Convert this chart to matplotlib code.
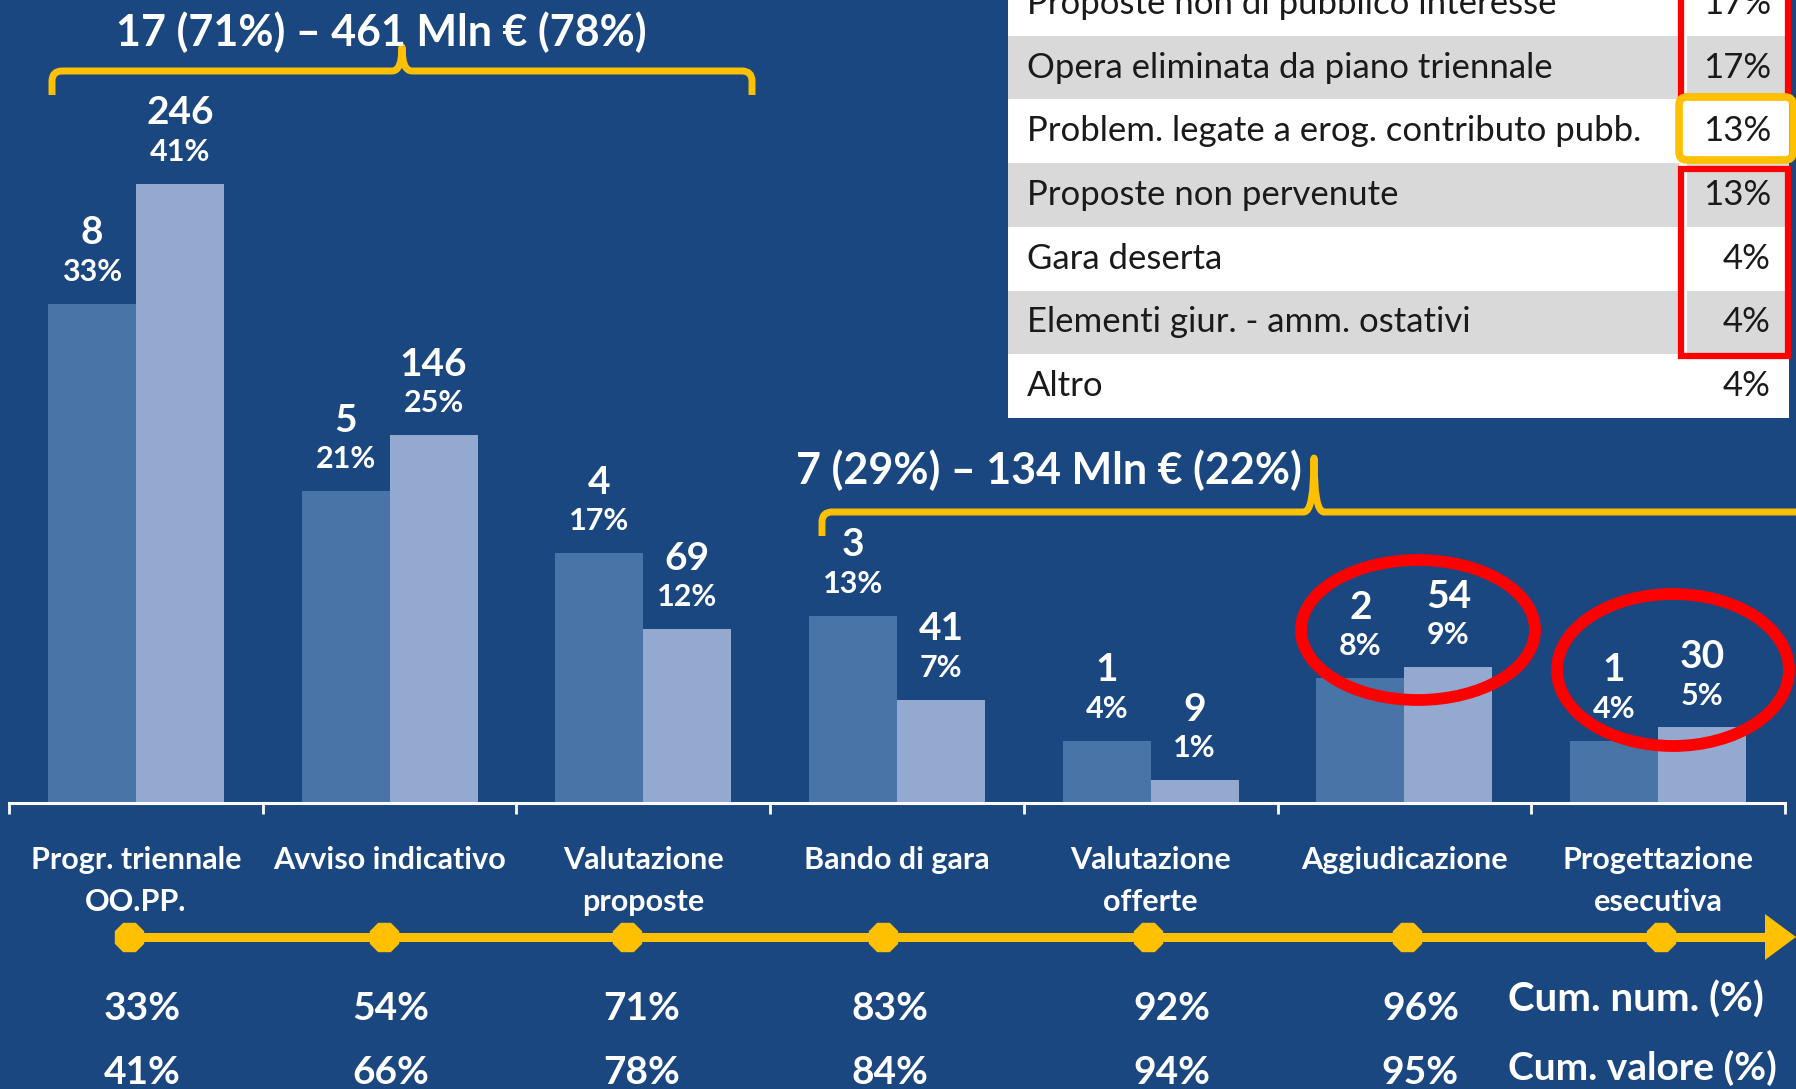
import numpy as np
import matplotlib
matplotlib.use("Agg")
import matplotlib.pyplot as plt
import matplotlib.transforms as mtransforms
from matplotlib.path import Path
from matplotlib.patches import PathPatch, Ellipse, Rectangle, FancyBboxPatch, Polygon

plt.rcParams["font.family"] = ["Lato", "DejaVu Sans"]

# fasi della procedura e dati per fase
phases = ["Progr. triennale\nOO.PP.", "Avviso indicativo", "Valutazione\nproposte",
          "Bando di gara", "Valutazione\nofferte", "Aggiudicazione", "Progettazione\nesecutiva"]
num_interventi = [8, 5, 4, 3, 1, 2, 1]
valore_mln = [246, 146, 69, 41, 9, 54, 30]
num_pct_lbl = [33, 21, 17, 13, 4, 8, 4]
val_pct_lbl = [41, 25, 12, 7, 1, 9, 5]
cum_num = [33, 54, 71, 83, 92, 96]
cum_val = [41, 66, 78, 84, 94, 95]

# cause di blocco
cause = ["Proposte non di pubblico interesse", "Opera eliminata da piano triennale",
         "Problem. legate a erog. contributo pubb.", "Proposte non pervenute",
         "Gara deserta", "Elementi giur. - amm. ostativi", "Altro"]
cause_pct = [17, 17, 13, 13, 4, 4, 4]

gruppo_a = "17 (71%) – 461 Mln € (78%)"
gruppo_b = "7 (29%) – 134 Mln € (22%)"

BG = "#1A4780"
DARK = "#4874A8"
LIGHT = "#94A9D0"
YEL = "#FFC000"
RED = "#FF0000"
W = 1796
H = 1089

num_share = np.array(num_interventi) / sum(num_interventi) * 100
val_share = np.array(valore_mln) / sum(valore_mln) * 100
x = np.arange(len(phases))
bw = 0.347

fig = plt.figure(figsize=(W / 100, H / 100), dpi=100, facecolor=BG)
ax = fig.add_axes([9 / W, (H - 803) / H, 1776 / W, 749 / H])
ax.set_facecolor("none")
ax.bar(x - bw / 2, num_share, bw, color=DARK, zorder=2)
ax.bar(x + bw / 2, val_share, bw, color=LIGHT, zorder=2)
ax.set_xlim(-0.5, 6.5)
ax.set_ylim(0, 50)

for xi, h, n, p in zip(x - bw / 2, num_share, num_interventi, num_pct_lbl):
    ax.annotate(str(n), (xi, h), xytext=(0, 51), textcoords="offset points",
                ha="center", va="center", color="white", fontsize=28, fontweight="bold")
    ax.annotate(f"{p}%", (xi, h), xytext=(0, 23), textcoords="offset points",
                ha="center", va="center", color="white", fontsize=22, fontweight="bold")
for xi, h, v, p in zip(x + bw / 2, val_share, valore_mln, val_pct_lbl):
    ax.annotate(str(v), (xi, h), xytext=(0, 51), textcoords="offset points",
                ha="center", va="center", color="white", fontsize=28, fontweight="bold")
    ax.annotate(f"{p}%", (xi, h), xytext=(0, 23), textcoords="offset points",
                ha="center", va="center", color="white", fontsize=22, fontweight="bold")

for s in ["top", "left", "right"]:
    ax.spines[s].set_visible(False)
ax.spines["bottom"].set_color("white")
ax.spines["bottom"].set_linewidth(2.2)
ax.set_yticks([])
ax.set_xticks(np.arange(-0.5, 7, 1))
ax.set_xticklabels([])
ax.tick_params(axis="x", which="major", direction="out", length=8, width=2, color="white")
ax.set_xticks(x, minor=True)
ax.set_xticklabels(phases, minor=True, color="white", fontsize=22, fontweight="bold",
                   linespacing=1.6)
ax.tick_params(axis="x", which="minor", length=0, pad=31)

# livello sovrapposto in pixel (y verso il basso)
ov = fig.add_axes([0, 0, 1, 1], zorder=5)
ov.set_xlim(0, W)
ov.set_ylim(H, 0)
ov.axis("off")
ov.patch.set_alpha(0)
blend = mtransforms.blended_transform_factory(ax.transData, ov.transData)


def brace(x0, x1, xm, y, drop, peak, r=10):
    verts = [(x0, y + drop), (x0, y + r), (x0, y), (x0 + r, y),
             (xm - r, y), (xm, y), (xm, y - peak),
             (xm, y), (xm + r, y),
             (x1 - r, y), (x1, y), (x1, y + r), (x1, y + drop)]
    codes = [Path.MOVETO, Path.LINETO, Path.CURVE3, Path.CURVE3,
             Path.LINETO, Path.CURVE3, Path.CURVE3,
             Path.CURVE3, Path.CURVE3,
             Path.LINETO, Path.CURVE3, Path.CURVE3, Path.LINETO]
    ov.add_patch(PathPatch(Path(verts, codes), fc="none", ec=YEL, lw=5,
                           capstyle="butt", joinstyle="round"))


brace(52, 752, 402, 71, 24, 24)
ov.text(381, 32, gruppo_a, ha="center", va="center", color="white",
        fontsize=31, fontweight="bold")
brace(822, 1830, 1314, 512, 24, 54)
ov.text(796, 470, gruppo_b, ha="left", va="center", color="white",
        fontsize=31, fontweight="bold")

# tabella delle cause
row_h = 63.7
t_left, t_split, t_right, t_bottom = 1008, 1683, 1789, 418
ov.add_patch(Rectangle((t_left, -60), t_right - t_left, t_bottom + 60, fc="white", ec="none"))
for i, (c, p) in enumerate(zip(cause, cause_pct)):
    top = t_bottom - row_h * (len(cause) - i)
    if i % 2 == 1:
        ov.add_patch(Rectangle((t_left, top), t_split - t_left - 4, row_h, fc="#D9D9D9", ec="none"))
        ov.add_patch(Rectangle((t_split + 4, top), t_right - t_split - 4, row_h, fc="#D9D9D9", ec="none"))
    yc = top + row_h / 2
    ov.text(1027, yc, c, ha="left", va="center", color="#1A1A1A", fontsize=25)
    ov.text(1771, yc, f"{p}%", ha="right", va="center", color="#1A1A1A", fontsize=25)

ov.add_patch(Rectangle((1681, -20), 107, 117, fc="none", ec=RED, lw=4.5))
ov.add_patch(FancyBboxPatch((1679, 97), 114, 63, boxstyle="round,pad=0,rounding_size=8",
                            fc="none", ec=YEL, lw=5.5))
ov.add_patch(Rectangle((1681, 169), 107, 187, fc="none", ec=RED, lw=4.5))

# cerchi rossi su aggiudicazione e progettazione
ov.add_patch(Ellipse((1418, 630), 234, 140, fc="none", ec=RED, lw=8.5))
ov.add_patch(Ellipse((1673, 670), 232, 152, fc="none", ec=RED, lw=8.5))

# linea del tempo
marker_dx = [-7, -6, -16, -14, -3, 3, 3]
cum_dx = [6, 1, -2, -7, 21, 16]
ov.plot([124, 1765], [937, 937], color=YEL, lw=6.5, solid_capstyle="butt")
ov.add_patch(Polygon([(1765, 914), (1796, 937), (1765, 960)], closed=True, fc=YEL, ec="none"))
for xi, dx in zip(x, marker_dx):
    off = mtransforms.offset_copy(blend, fig=fig, x=dx, y=0, units="dots")
    ov.plot([xi], [937], transform=off, ls="none", marker="8", ms=22, mfc=YEL, mec=YEL)

for xi, cn, cv, dx in zip(x, cum_num, cum_val, cum_dx):
    off = mtransforms.offset_copy(blend, fig=fig, x=dx, y=0, units="dots")
    ov.text(xi, 1008, f"{cn}%", transform=off, ha="center", va="center",
            color="white", fontsize=28, fontweight="bold")
    ov.text(xi, 1073, f"{cv}%", transform=off, ha="center", va="center",
            color="white", fontsize=28, fontweight="bold")
ov.text(1508, 1000, "Cum. num. (%)", ha="left", va="center", color="white",
        fontsize=29, fontweight="bold")
ov.text(1508, 1068, "Cum. valore (%)", ha="left", va="center", color="white",
        fontsize=28, fontweight="bold")

fig.savefig("out.png", dpi=100, facecolor=BG)
